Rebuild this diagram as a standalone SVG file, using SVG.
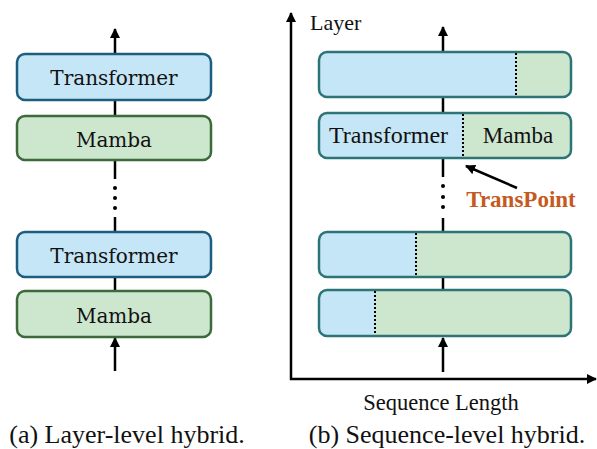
<svg xmlns="http://www.w3.org/2000/svg" width="597" height="449" viewBox="0 0 597 449">
<defs>
<marker id="ah" viewBox="0 0 10 10" refX="9" refY="5" markerWidth="10" markerHeight="10" markerUnits="userSpaceOnUse" orient="auto"><path d="M0,0 L10,5 L0,10 z" fill="#000"/></marker>
<style>
.tb{fill:#C5E6F6;stroke:#1D5E7E;stroke-width:2.5}
.mb{fill:#CDE6CE;stroke:#3C6A3A;stroke-width:2.5}
.rb{fill:none;stroke:#2C7475;stroke-width:2.5}
.bf{fill:#C5E6F6}
.gf{fill:#CDE6CE}
.ln{stroke:#000;stroke-width:2.5;fill:none}
.dt{stroke:#000;stroke-width:2;stroke-dasharray:2 2;fill:none}
.ls{font-family:"DejaVu Serif",serif;font-size:20px;fill:#111;text-anchor:middle}
.rs{font-family:"Liberation Serif","Times New Roman",serif;fill:#111}
</style>
</defs>
<g id="connectors">
<line class="ln" x1="115" y1="54" x2="115" y2="29" marker-end="url(#ah)"/>
<line class="ln" x1="115" y1="100" x2="115" y2="116"/>
<line class="ln" x1="115" y1="160" x2="115" y2="179"/>
<circle cx="115" cy="188" r="2" fill="#000"/>
<circle cx="115" cy="198" r="2" fill="#000"/>
<circle cx="115" cy="208" r="2" fill="#000"/>
<line class="ln" x1="115" y1="217" x2="115" y2="232"/>
<line class="ln" x1="115" y1="277" x2="115" y2="291"/>
<line class="ln" x1="115" y1="371" x2="115" y2="338" marker-end="url(#ah)"/>
<line class="ln" x1="443" y1="52" x2="443" y2="27" marker-end="url(#ah)"/>
<line class="ln" x1="443" y1="97" x2="443" y2="113"/>
<line class="ln" x1="443" y1="158" x2="443" y2="177"/>
<circle cx="443" cy="186" r="2" fill="#000"/>
<circle cx="443" cy="197" r="2" fill="#000"/>
<circle cx="443" cy="207" r="2" fill="#000"/>
<line class="ln" x1="443" y1="218" x2="443" y2="232"/>
<line class="ln" x1="443" y1="277" x2="443" y2="290"/>
<line class="ln" x1="443" y1="372" x2="443" y2="338" marker-end="url(#ah)"/>
<line class="ln" x1="291" y1="380" x2="291" y2="13" marker-end="url(#ah)"/>
<line class="ln" x1="290" y1="379" x2="596" y2="379" marker-end="url(#ah)"/>
<line class="ln" x1="517" y1="188" x2="466" y2="166" marker-end="url(#ah)"/>
</g>
<g id="l-transformer1"><rect class="tb" x="17" y="54" width="194" height="46" rx="8"/><text class="ls" x="114" y="85">Transformer</text></g>
<g id="l-mamba1"><rect class="mb" x="17" y="116" width="194" height="44" rx="8"/><text class="ls" x="114" y="147">Mamba</text></g>
<g id="l-transformer2"><rect class="tb" x="17" y="232" width="194" height="45" rx="8"/><text class="ls" x="114" y="263">Transformer</text></g>
<g id="l-mamba2"><rect class="mb" x="17" y="291" width="194" height="46" rx="8"/><text class="ls" x="114" y="323">Mamba</text></g>
<clipPath id="c1"><rect x="319" y="52" width="252" height="45" rx="8"/></clipPath>
<clipPath id="c2"><rect x="319" y="113" width="252" height="45" rx="8"/></clipPath>
<clipPath id="c3"><rect x="319" y="232" width="252" height="45" rx="8"/></clipPath>
<clipPath id="c4"><rect x="319" y="290" width="252" height="46" rx="8"/></clipPath>
<g id="r-layer1"><g clip-path="url(#c1)"><rect class="bf" x="319" y="52" width="197" height="45"/><rect class="gf" x="516" y="52" width="55" height="45"/></g><rect class="rb" x="319" y="52" width="252" height="45" rx="8"/><line class="dt" x1="516" y1="53" x2="516" y2="96"/></g>
<g id="r-layer2"><g clip-path="url(#c2)"><rect class="bf" x="319" y="113" width="144" height="45"/><rect class="gf" x="463" y="113" width="108" height="45"/></g><rect class="rb" x="319" y="113" width="252" height="45" rx="8"/><line class="dt" x1="463" y1="114" x2="463" y2="157"/><text class="rs" x="329" y="143" font-size="24">Transformer</text><text class="rs" x="518" y="143" font-size="23" text-anchor="middle">Mamba</text></g>
<g id="r-layer3"><g clip-path="url(#c3)"><rect class="bf" x="319" y="232" width="97" height="45"/><rect class="gf" x="416" y="232" width="155" height="45"/></g><rect class="rb" x="319" y="232" width="252" height="45" rx="8"/><line class="dt" x1="416" y1="233" x2="416" y2="276"/></g>
<g id="r-layer4"><g clip-path="url(#c4)"><rect class="bf" x="319" y="290" width="56" height="46"/><rect class="gf" x="375" y="290" width="196" height="46"/></g><rect class="rb" x="319" y="290" width="252" height="46" rx="8"/><line class="dt" x1="375" y1="291" x2="375" y2="335"/></g>
<g id="labels">
<text class="rs" x="310" y="30" font-size="22">Layer</text>
<text class="rs" x="441" y="410" font-size="22.5" text-anchor="middle">Sequence Length</text>
<text class="rs" x="521" y="207" font-size="23" font-weight="bold" fill="#C55A1E" style="fill:#C55A1E" text-anchor="middle">TransPoint</text>
<text class="rs" x="127" y="443" font-size="26" text-anchor="middle">(a) Layer-level hybrid.</text>
<text class="rs" x="447" y="443" font-size="26" text-anchor="middle">(b) Sequence-level hybrid.</text>
</g>
</svg>
